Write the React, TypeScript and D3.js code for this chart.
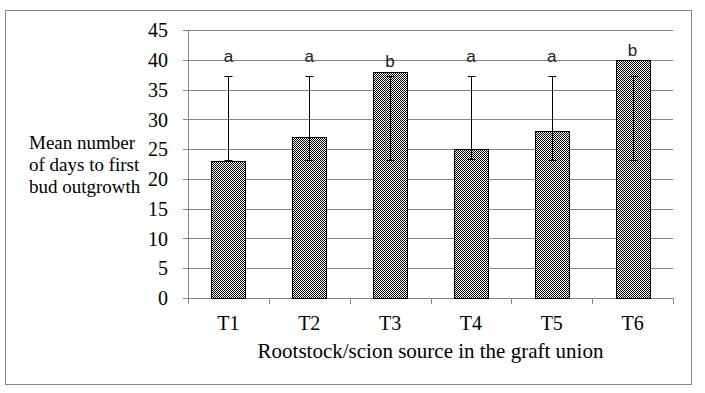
import React from "react";
import * as d3 from "d3";

const categories = ["T1", "T2", "T3", "T4", "T5", "T6"];
const meanDays = [23, 27, 38, 25, 28, 40];
const errLow = [23.1, 23.2, 23.2, 23.3, 23.2, 23.2];
const errHigh = [37.3, 37.3, 37.3, 37.3, 37.3, 37.3];
const letters = ["a", "a", "b", "a", "a", "b"];
const letterLevel = [39.6, 39.6, 38.8, 39.6, 39.6, 40.6];
const yTicks = [0, 5, 10, 15, 20, 25, 30, 35, 40, 45];
const yTitleLines = ["Mean number", "of days to first", "bud outgrowth"];
const xTitle = "Rootstock/scion source in the graft union";

const W = 705;
const H = 393;
const plot = { left: 188, right: 673, top: 30, bottom: 298 };
const serif = "'Liberation Serif', 'Times New Roman', serif";
const sans = "'Liberation Sans', Arial, sans-serif";

export default function App() {
  const x = d3
    .scaleBand<string>()
    .domain(categories)
    .range([plot.left, plot.right])
    .paddingInner(0.58)
    .paddingOuter(0.29);
  const band = d3.scaleBand<string>().domain(categories).range([plot.left, plot.right]);
  const y = d3.scaleLinear().domain([0, 45]).range([plot.bottom, plot.top]);
  const bw = x.bandwidth();
  const grid = "#868686";

  return (
    <div style={{ position: "absolute", left: 0, top: 0 }}>
      <svg width={W} height={H} style={{ display: "block", background: "#fff" }}>
        <defs>
          <pattern id="chk" patternUnits="userSpaceOnUse" x={0} y={0} width={2} height={2}>
            <rect x={0} y={0} width={2} height={2} fill="#ffffff" shapeRendering="crispEdges" />
            <rect x={0} y={0} width={1} height={1} fill="#000" shapeRendering="crispEdges" />
            <rect x={1} y={1} width={1} height={1} fill="#000" shapeRendering="crispEdges" />
          </pattern>
        </defs>
        <rect x={5.5} y={10.5} width={686} height={374} fill="#fff" stroke={grid} strokeWidth={1} />
        {yTicks.map((t) => (
          <line
            key={"g" + t}
            x1={plot.left - 5}
            x2={plot.right}
            y1={Math.round(y(t)) + 0.5}
            y2={Math.round(y(t)) + 0.5}
            stroke={grid}
            strokeWidth={1}
          />
        ))}
        <line x1={plot.left + 0.5} x2={plot.left + 0.5} y1={plot.top} y2={plot.bottom + 1} stroke={grid} />
        {yTicks.map((t) => (
          <text
            key={"yl" + t}
            x={168}
            y={y(t)}
            dy="0.36em"
            textAnchor="end"
            fontFamily={serif}
            fontSize={20}
            fill="#000"
          >
            {t}
          </text>
        ))}
        {[...categories.map((c) => band(c) as number), plot.right].map((px, i) => (
          <line
            key={"xt" + i}
            x1={Math.round(px) + 0.5}
            x2={Math.round(px) + 0.5}
            y1={plot.bottom}
            y2={plot.bottom + 6}
            stroke={grid}
          />
        ))}
        {categories.map((c, i) => {
          const x0 = Math.round(x(c) as number);
          const yt = Math.round(y(meanDays[i]));
          return (
            <rect
              key={"b" + c}
              x={x0 + 0.5}
              y={yt + 0.5}
              width={Math.round(bw)}
              height={Math.round(y(0)) - yt}
              fill="url(#chk)"
              stroke="#000"
              strokeWidth={1}
            />
          );
        })}
        {categories.map((c, i) => {
          const cx = Math.round((x(c) as number) + bw / 2) + 0.5;
          const yl = Math.round(y(errLow[i])) + 0.5;
          const yh = Math.round(y(errHigh[i])) + 0.5;
          return (
            <g key={"e" + c} stroke="#000" strokeWidth={1}>
              <line x1={cx} x2={cx} y1={yl} y2={yh} />
              <line x1={cx - 4} x2={cx + 4} y1={yh} y2={yh} />
              <line x1={cx - 4} x2={cx + 4} y1={yl} y2={yl} />
            </g>
          );
        })}
        {categories.map((c, i) => (
          <text
            key={"l" + c}
            x={(x(c) as number) + bw / 2}
            y={y(letterLevel[i])}
            textAnchor="middle"
            fontFamily={sans}
            fontSize={17}
            fill="#222"
          >
            {letters[i]}
          </text>
        ))}
        {categories.map((c) => (
          <text
            key={"xl" + c}
            x={(x(c) as number) + bw / 2}
            y={330}
            textAnchor="middle"
            fontFamily={serif}
            fontSize={20}
            fill="#000"
          >
            {c}
          </text>
        ))}
        <text
          x={(plot.left + plot.right) / 2}
          y={358}
          textAnchor="middle"
          fontFamily={serif}
          fontSize={21}
          fill="#000"
        >
          {xTitle}
        </text>
        {yTitleLines.map((l, i) => (
          <text key={"yt" + i} x={29} y={149 + i * 22} fontFamily={serif} fontSize={19} fill="#000">
            {l}
          </text>
        ))}
      </svg>
    </div>
  );
}
